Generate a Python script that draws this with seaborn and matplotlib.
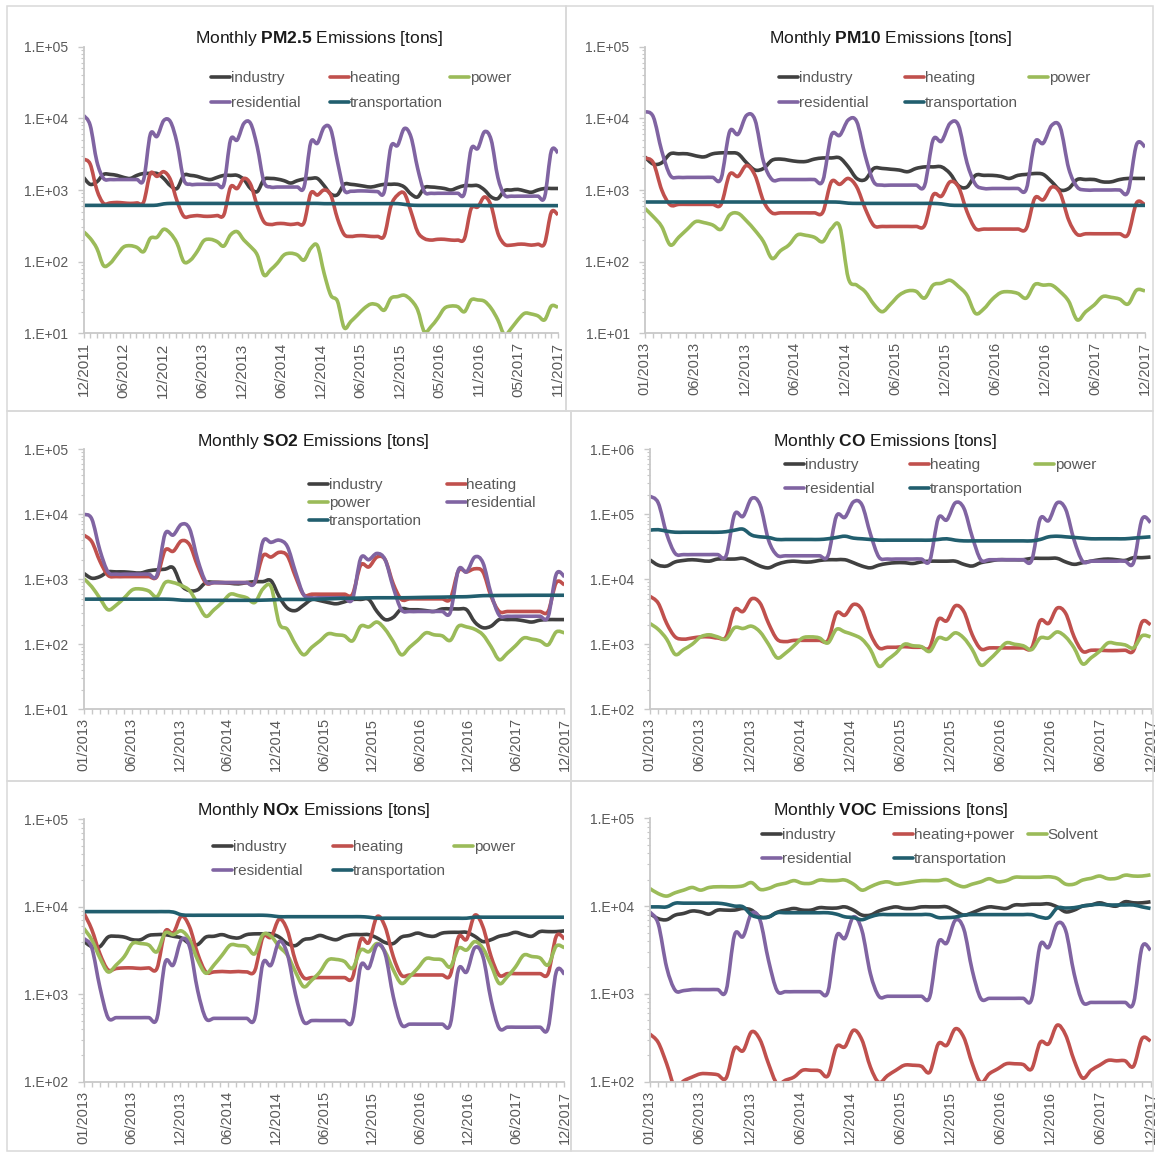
import numpy as np
import pandas as pd
import matplotlib
matplotlib.use("Agg")
import matplotlib.pyplot as plt
import seaborn as sns
from matplotlib.patches import Rectangle, PathPatch
from matplotlib.path import Path
from matplotlib.lines import Line2D
from matplotlib.ticker import LogLocator, NullFormatter, FuncFormatter

sns.set_theme(style="white")
plt.rcParams["font.family"] = ["Liberation Sans", "DejaVu Sans"]
plt.rcParams["mathtext.fontset"] = "custom"
plt.rcParams["mathtext.rm"] = "Liberation Sans"
plt.rcParams["mathtext.it"] = "Liberation Sans:italic"
plt.rcParams["mathtext.bf"] = "Liberation Sans:bold"

# ---------------------------------------------------------------- tick labels
labels_pm25 = ["12/2011", "06/2012", "12/2012", "06/2013", "12/2013", "06/2014", "12/2014",
               "06/2015", "12/2015", "05/2016", "11/2016", "05/2017", "11/2017"]
labels_2013 = ["01/2013", "06/2013", "12/2013", "06/2014", "12/2014", "06/2015",
               "12/2015", "06/2016", "12/2016", "06/2017", "12/2017"]

# ---------------------------------------------------------------- PM2.5 (monthly, 12/2011 - 11/2017)
pm25_industry = [1.5e3, 1.2e3, 1.3e3, 1.65e3, 1.65e3, 1.6e3, 1.5e3, 1.45e3, 1.6e3, 1.7e3, 1.7e3, 1.7e3,
                 1.45e3, 1.15e3, 1.05e3, 1.6e3, 1.6e3, 1.55e3, 1.45e3, 1.4e3, 1.5e3, 1.6e3, 1.6e3, 1.6e3,
                 1.4e3, 1.05e3, 9.5e2, 1.4e3, 1.45e3, 1.42e3, 1.35e3, 1.25e3, 1.35e3, 1.42e3, 1.45e3, 1.45e3,
                 1.15e3, 8.8e2, 8.6e2, 1.2e3, 1.2e3, 1.17e3, 1.13e3, 1.1e3, 1.15e3, 1.2e3, 1.2e3, 1.2e3,
                 1.1e3, 8.8e2, 8.0e2, 1.08e3, 1.1e3, 1.08e3, 1.05e3, 1.0e3, 1.08e3, 1.15e3, 1.15e3, 1.15e3,
                 1.0e3, 8.0e2, 7.6e2, 9.8e2, 1.0e3, 1.02e3, 9.7e2, 9.3e2, 1.0e3, 1.05e3, 1.05e3, 1.05e3]
pm25_heating = [2.7e3, 2.3e3, 1.0e3, 6.5e2, 6.6e2, 6.7e2, 6.6e2, 6.5e2, 6.6e2, 6.8e2, 1.7e3, 1.55e3,
                1.8e3, 1.4e3, 7.0e2, 4.3e2, 4.3e2, 4.4e2, 4.3e2, 4.3e2, 4.4e2, 4.5e2, 1.1e3, 1.05e3,
                1.45e3, 1.2e3, 6.0e2, 3.6e2, 3.3e2, 3.4e2, 3.4e2, 3.3e2, 3.4e2, 3.5e2, 9.0e2, 8.5e2,
                1.0e3, 8.5e2, 4.0e2, 2.4e2, 2.25e2, 2.3e2, 2.3e2, 2.25e2, 2.25e2, 2.3e2, 6.0e2, 8.5e2,
                9.0e2, 5.0e2, 2.6e2, 2.1e2, 2.0e2, 2.05e2, 2.05e2, 2.0e2, 2.0e2, 2.1e2, 5.5e2, 5.8e2,
                8.0e2, 6.0e2, 2.5e2, 1.75e2, 1.7e2, 1.75e2, 1.75e2, 1.7e2, 1.75e2, 1.8e2, 4.9e2, 4.5e2]
pm25_power = [262, 212, 153, 88, 95, 124, 160, 167, 158, 138, 212, 219,
              283, 248, 180, 100, 105, 138, 196, 205, 190, 165, 236, 262,
              200, 162, 124, 65, 77, 95, 124, 131, 124, 105, 153, 167,
              69, 34, 28, 12, 14.6, 18, 22.3, 25.6, 24.8, 21, 30.8, 32.5,
              34, 29.2, 21.2, 10.5, 12.4, 16.2, 22.3, 24, 23.5, 20, 29.2, 29.2,
              28, 22.3, 15.4, 9.5, 11.7, 15.4, 19, 18.6, 17.5, 15.4, 24, 23]
pm25_residential = [1.1e4, 8.0e3, 2.5e3, 1.45e3, 1.4e3, 1.4e3, 1.4e3, 1.4e3, 1.4e3, 1.4e3, 6.0e3, 5.6e3,
                    9.3e3, 9.0e3, 4.5e3, 1.4e3, 1.2e3, 1.2e3, 1.2e3, 1.2e3, 1.2e3, 1.2e3, 5.0e3, 5.0e3,
                    8.5e3, 8.5e3, 4.0e3, 1.3e3, 1.1e3, 1.1e3, 1.1e3, 1.1e3, 1.1e3, 1.1e3, 4.6e3, 4.5e3,
                    7.5e3, 7.0e3, 2.5e3, 1.0e3, 9.6e2, 9.7e2, 9.7e2, 9.6e2, 9.5e2, 9.4e2, 4.0e3, 4.2e3,
                    7.2e3, 5.5e3, 2.0e3, 9.5e2, 9.0e2, 9.0e2, 9.0e2, 9.0e2, 9.0e2, 9.0e2, 3.7e3, 3.8e3,
                    6.5e3, 5.0e3, 1.5e3, 8.5e2, 8.2e2, 8.2e2, 8.2e2, 8.2e2, 8.2e2, 8.0e2, 3.5e3, 3.3e3]
pm25_transport = [610, 610, 610, 610, 610, 610, 610, 610, 610, 610, 610, 615,
                  640, 650, 650, 650, 650, 650, 650, 650, 650, 650, 650, 650,
                  650, 650, 650, 650, 650, 650, 650, 650, 650, 650, 650, 650,
                  645, 645, 645, 645, 645, 645, 645, 645, 645, 645, 645, 645,
                  630, 615, 610, 610, 610, 610, 610, 610, 610, 610, 610, 610,
                  605, 605, 605, 605, 605, 605, 605, 605, 605, 605, 605, 605]

# ---------------------------------------------------------------- PM10 (monthly, 2013 - 2017)
pm10_industry = [2.9e3, 2.3e3, 2.4e3, 3.2e3, 3.2e3, 3.2e3, 3.0e3, 2.9e3, 3.2e3, 3.3e3, 3.3e3, 3.2e3,
                 2.4e3, 1.9e3, 2.0e3, 2.6e3, 2.7e3, 2.6e3, 2.5e3, 2.5e3, 2.7e3, 2.8e3, 2.8e3, 2.8e3,
                 2.1e3, 1.45e3, 1.4e3, 2.0e3, 2.0e3, 1.95e3, 1.9e3, 1.8e3, 2.0e3, 2.1e3, 2.1e3, 2.1e3,
                 1.7e3, 1.15e3, 1.1e3, 1.6e3, 1.6e3, 1.6e3, 1.55e3, 1.45e3, 1.6e3, 1.65e3, 1.7e3, 1.65e3,
                 1.3e3, 1.0e3, 1.05e3, 1.4e3, 1.4e3, 1.4e3, 1.3e3, 1.3e3, 1.4e3, 1.45e3, 1.45e3, 1.45e3]
pm10_heating = [2.8e3, 2.4e3, 1.0e3, 6.2e2, 6.3e2, 6.3e2, 6.3e2, 6.3e2, 6.3e2, 6.3e2, 1.65e3, 1.55e3,
                2.2e3, 1.6e3, 7.0e2, 4.8e2, 4.8e2, 4.8e2, 4.8e2, 4.8e2, 4.8e2, 4.9e2, 1.3e3, 1.2e3,
                1.45e3, 1.1e3, 5.5e2, 3.2e2, 3.1e2, 3.1e2, 3.1e2, 3.1e2, 3.1e2, 3.2e2, 8.5e2, 8.2e2,
                1.3e3, 1.1e3, 5.0e2, 2.9e2, 2.85e2, 2.85e2, 2.85e2, 2.85e2, 2.85e2, 2.9e2, 7.7e2, 7.3e2,
                1.1e3, 9.0e2, 3.8e2, 2.4e2, 2.45e2, 2.45e2, 2.45e2, 2.45e2, 2.45e2, 2.4e2, 6.6e2, 6.2e2]
pm10_power = [555, 425, 308, 171, 219, 283, 362, 350, 325, 283, 448, 472,
              370, 273, 190, 111, 142, 171, 236, 233, 219, 190, 288, 308,
              59, 47, 38, 25.6, 20, 25.6, 34, 39, 38.5, 31, 47, 50,
              55, 45, 34, 19, 22, 30, 37, 38, 36, 31, 48, 47,
              47, 38, 28, 15.4, 20, 24.8, 32.5, 31.8, 30, 25.6, 40, 39]
pm10_residential = [1.24e4, 1.05e4, 3.5e3, 1.6e3, 1.5e3, 1.5e3, 1.5e3, 1.5e3, 1.5e3, 1.45e3, 6.5e3, 6.0e3,
                    1.1e4, 9.5e3, 2.5e3, 1.4e3, 1.4e3, 1.4e3, 1.4e3, 1.4e3, 1.4e3, 1.35e3, 5.8e3, 5.8e3,
                    9.5e3, 9.0e3, 3.0e3, 1.3e3, 1.17e3, 1.17e3, 1.17e3, 1.17e3, 1.17e3, 1.15e3, 5.0e3, 4.8e3,
                    8.5e3, 8.0e3, 2.4e3, 1.2e3, 1.05e3, 1.05e3, 1.05e3, 1.05e3, 1.05e3, 1.03e3, 4.6e3, 4.5e3,
                    8.0e3, 7.5e3, 2.0e3, 1.1e3, 1.0e3, 1.0e3, 1.0e3, 1.0e3, 1.0e3, 9.5e2, 4.3e3, 4.0e3]
pm10_transport = [680, 680, 680, 680, 680, 680, 680, 680, 680, 680, 680, 680,
                  680, 680, 680, 680, 680, 680, 680, 680, 680, 680, 680, 675,
                  655, 650, 650, 650, 650, 650, 650, 650, 650, 650, 650, 640,
                  615, 610, 610, 610, 610, 610, 610, 610, 610, 610, 610, 610,
                  610, 610, 610, 610, 610, 610, 610, 610, 610, 610, 610, 610]

# ---------------------------------------------------------------- SO2
so2_industry = [1.24e3, 1.04e3, 1.1e3, 1.3e3, 1.3e3, 1.3e3, 1.27e3, 1.25e3, 1.35e3, 1.4e3, 1.43e3, 1.5e3,
                8.1e2, 6.7e2, 6.9e2, 8.9e2, 9.0e2, 8.9e2, 8.7e2, 8.5e2, 8.9e2, 9.2e2, 9.2e2, 9.5e2,
                5.4e2, 3.6e2, 3.3e2, 4.0e2, 4.9e2, 4.7e2, 4.4e2, 4.2e2, 4.5e2, 4.9e2, 4.9e2, 4.9e2,
                3.2e2, 2.4e2, 2.6e2, 3.5e2, 3.4e2, 3.4e2, 3.3e2, 3.2e2, 3.5e2, 3.5e2, 3.5e2, 3.4e2,
                2.2e2, 1.8e2, 1.9e2, 2.4e2, 2.4e2, 2.4e2, 2.3e2, 2.2e2, 2.35e2, 2.4e2, 2.4e2, 2.4e2]
so2_heating = [4.8e3, 3.8e3, 1.9e3, 1.15e3, 1.1e3, 1.1e3, 1.1e3, 1.1e3, 1.1e3, 1.1e3, 2.8e3, 2.7e3,
               3.9e3, 3.4e3, 1.6e3, 8.8e2, 8.9e2, 8.9e2, 8.9e2, 8.9e2, 8.9e2, 8.9e2, 2.3e3, 2.2e3,
               2.6e3, 2.3e3, 1.1e3, 5.8e2, 5.9e2, 5.9e2, 5.9e2, 5.9e2, 5.9e2, 5.9e2, 1.65e3, 1.55e3,
               2.2e3, 2.0e3, 8.5e2, 4.9e2, 5.0e2, 5.0e2, 5.0e2, 5.0e2, 5.0e2, 5.0e2, 1.35e3, 1.3e3,
               1.45e3, 1.3e3, 5.5e2, 3.2e2, 3.2e2, 3.2e2, 3.2e2, 3.2e2, 3.2e2, 3.2e2, 8.9e2, 8.2e2]
so2_power = [1.03e3, 7.7e2, 5.1e2, 3.4e2, 4.0e2, 5.2e2, 6.9e2, 7.1e2, 6.6e2, 5.4e2, 8.9e2, 8.9e2,
             8.0e2, 6.7e2, 4.2e2, 2.7e2, 3.4e2, 4.4e2, 5.9e2, 5.6e2, 5.2e2, 4.4e2, 7.1e2, 7.7e2,
             2.1e2, 1.7e2, 1.0e2, 6.9e1, 9.0e1, 1.13e2, 1.45e2, 1.4e2, 1.35e2, 1.13e2, 1.9e2, 1.85e2,
             2.2e2, 1.7e2, 1.1e2, 6.9e1, 9.0e1, 1.15e2, 1.5e2, 1.4e2, 1.35e2, 1.15e2, 1.9e2, 1.85e2,
             1.7e2, 1.4e2, 9.2e1, 5.8e1, 7.3e1, 9.5e1, 1.25e2, 1.2e2, 1.13e2, 9.8e1, 1.55e2, 1.5e2]
so2_residential = [1.0e4, 8.5e3, 2.8e3, 1.3e3, 1.2e3, 1.2e3, 1.2e3, 1.2e3, 1.2e3, 1.15e3, 5.0e3, 4.8e3,
                   7.0e3, 6.0e3, 2.0e3, 9.2e2, 8.9e2, 8.9e2, 8.9e2, 8.9e2, 8.9e2, 9.0e2, 3.8e3, 3.7e3,
                   4.0e3, 3.2e3, 1.3e3, 5.8e2, 5.2e2, 5.2e2, 5.2e2, 5.2e2, 5.2e2, 5.0e2, 2.1e3, 2.0e3,
                   2.5e3, 2.0e3, 7.5e2, 3.4e2, 3.2e2, 3.2e2, 3.2e2, 3.2e2, 3.2e2, 3.1e2, 1.4e3, 1.3e3,
                   2.2e3, 1.8e3, 6.0e2, 2.8e2, 2.7e2, 2.7e2, 2.7e2, 2.7e2, 2.7e2, 2.65e2, 1.2e3, 1.1e3]
so2_transport = [495, 495, 495, 495, 495, 495, 495, 495, 495, 495, 495, 490,
                 478, 475, 475, 475, 475, 475, 475, 475, 475, 475, 478, 482,
                 488, 490, 490, 490, 490, 495, 500, 505, 510, 512, 515, 518,
                 520, 520, 520, 520, 522, 525, 528, 530, 532, 535, 538, 540,
                 550, 560, 562, 564, 565, 566, 567, 568, 568, 568, 568, 568]

# ---------------------------------------------------------------- CO
co_industry = [2.0e4, 1.65e4, 1.6e4, 1.85e4, 1.95e4, 2.0e4, 1.95e4, 1.9e4, 2.05e4, 2.05e4, 2.05e4, 2.1e4,
               1.85e4, 1.6e4, 1.5e4, 1.7e4, 1.85e4, 1.9e4, 1.85e4, 1.85e4, 1.95e4, 2.0e4, 2.0e4, 2.0e4,
               1.8e4, 1.6e4, 1.5e4, 1.65e4, 1.75e4, 1.8e4, 1.8e4, 1.75e4, 1.85e4, 1.9e4, 1.9e4, 1.9e4,
               1.9e4, 1.7e4, 1.6e4, 1.8e4, 1.9e4, 2.0e4, 2.0e4, 2.0e4, 2.0e4, 2.1e4, 2.1e4, 2.1e4,
               2.1e4, 1.85e4, 1.7e4, 1.8e4, 1.9e4, 2.0e4, 2.05e4, 2.0e4, 1.95e4, 2.15e4, 2.15e4, 2.2e4]
co_heating = [5.5e3, 4.3e3, 2.1e3, 1.3e3, 1.2e3, 1.25e3, 1.3e3, 1.3e3, 1.25e3, 1.3e3, 3.4e3, 3.2e3,
              5.0e3, 4.3e3, 2.1e3, 1.2e3, 1.1e3, 1.15e3, 1.15e3, 1.15e3, 1.15e3, 1.15e3, 3.0e3, 2.8e3,
              4.1e3, 3.4e3, 1.45e3, 8.8e2, 9.0e2, 9.0e2, 9.2e2, 9.0e2, 9.0e2, 9.0e2, 2.4e3, 2.3e3,
              3.9e3, 3.2e3, 1.4e3, 8.5e2, 8.8e2, 8.8e2, 8.8e2, 8.8e2, 8.8e2, 8.8e2, 2.3e3, 2.1e3,
              3.6e3, 3.0e3, 1.3e3, 7.8e2, 8.1e2, 8.1e2, 8.0e2, 8.0e2, 8.1e2, 8.0e2, 2.2e3, 2.0e3]
co_power = [2.1e3, 1.7e3, 1.2e3, 7.0e2, 8.3e2, 1.0e3, 1.3e3, 1.4e3, 1.3e3, 1.2e3, 1.8e3, 1.75e3,
            1.9e3, 1.55e3, 1.0e3, 6.2e2, 7.3e2, 9.5e2, 1.25e3, 1.3e3, 1.25e3, 1.05e3, 1.7e3, 1.55e3,
            1.4e3, 1.2e3, 8.3e2, 4.6e2, 5.8e2, 7.3e2, 1.0e3, 9.5e2, 9.2e2, 7.8e2, 1.25e3, 1.2e3,
            1.5e3, 1.25e3, 8.3e2, 4.8e2, 5.8e2, 7.8e2, 1.05e3, 1.0e3, 9.5e2, 8.3e2, 1.25e3, 1.25e3,
            1.55e3, 1.3e3, 8.8e2, 5.0e2, 6.2e2, 7.8e2, 1.05e3, 1.02e3, 9.8e2, 8.8e2, 1.35e3, 1.3e3]
co_residential = [1.9e5, 1.5e5, 5.0e4, 2.5e4, 2.4e4, 2.4e4, 2.4e4, 2.4e4, 2.4e4, 2.3e4, 1.0e5, 9.3e4,
                  1.75e5, 1.4e5, 4.0e4, 2.35e4, 2.3e4, 2.3e4, 2.3e4, 2.3e4, 2.3e4, 2.3e4, 9.4e4, 9.0e4,
                  1.55e5, 1.4e5, 5.0e4, 2.2e4, 2.05e4, 2.05e4, 2.05e4, 2.05e4, 2.05e4, 1.95e4, 8.7e4, 8.2e4,
                  1.5e5, 1.25e5, 4.5e4, 2.0e4, 2.0e4, 2.0e4, 2.0e4, 2.0e4, 2.0e4, 1.95e4, 8.5e4, 8.0e4,
                  1.5e5, 1.2e5, 4.0e4, 1.9e4, 1.9e4, 1.9e4, 1.9e4, 1.9e4, 1.9e4, 1.8e4, 8.4e4, 7.5e4]
co_transport = [5.7e4, 5.8e4, 5.5e4, 5.3e4, 5.3e4, 5.3e4, 5.3e4, 5.3e4, 5.3e4, 5.4e4, 5.7e4, 5.9e4,
                4.8e4, 4.5e4, 4.4e4, 4.1e4, 4.1e4, 4.1e4, 4.1e4, 4.1e4, 4.1e4, 4.2e4, 4.4e4, 4.6e4,
                4.3e4, 4.2e4, 4.1e4, 4.0e4, 4.0e4, 4.0e4, 4.0e4, 4.0e4, 4.0e4, 4.0e4, 4.1e4, 4.2e4,
                4.0e4, 3.9e4, 3.9e4, 3.9e4, 3.9e4, 3.9e4, 3.9e4, 3.9e4, 3.9e4, 3.9e4, 4.1e4, 4.5e4,
                4.6e4, 4.5e4, 4.4e4, 4.3e4, 4.2e4, 4.2e4, 4.2e4, 4.2e4, 4.2e4, 4.3e4, 4.4e4, 4.5e4]

# ---------------------------------------------------------------- NOx
nox_industry = [4.05e3, 3.5e3, 3.5e3, 4.5e3, 4.6e3, 4.5e3, 4.2e3, 4.2e3, 4.7e3, 4.8e3, 4.8e3, 4.6e3,
                4.4e3, 3.8e3, 3.7e3, 4.5e3, 4.6e3, 4.8e3, 4.5e3, 4.4e3, 4.8e3, 4.9e3, 4.9e3, 4.9e3,
                4.5e3, 3.8e3, 3.6e3, 4.2e3, 4.35e3, 4.7e3, 4.4e3, 4.2e3, 4.6e3, 4.8e3, 4.8e3, 4.8e3,
                4.4e3, 3.9e3, 3.8e3, 4.5e3, 4.7e3, 5.0e3, 4.7e3, 4.6e3, 5.0e3, 5.1e3, 5.1e3, 5.1e3,
                4.6e3, 4.0e3, 4.2e3, 4.6e3, 4.8e3, 5.1e3, 4.8e3, 4.6e3, 5.2e3, 5.2e3, 5.2e3, 5.3e3]
nox_heating = [8.6e3, 5.5e3, 2.9e3, 1.9e3, 1.97e3, 2.0e3, 2.0e3, 1.97e3, 2.0e3, 1.97e3, 5.2e3, 5.0e3,
               7.8e3, 5.9e3, 2.9e3, 1.8e3, 1.8e3, 1.82e3, 1.8e3, 1.82e3, 1.8e3, 1.85e3, 4.5e3, 4.5e3,
               7.2e3, 5.4e3, 2.4e3, 1.55e3, 1.55e3, 1.55e3, 1.55e3, 1.55e3, 1.55e3, 1.55e3, 4.2e3, 3.9e3,
               7.7e3, 5.9e3, 2.7e3, 1.65e3, 1.66e3, 1.66e3, 1.66e3, 1.66e3, 1.66e3, 1.66e3, 4.5e3, 4.25e3,
               8.0e3, 5.9e3, 2.7e3, 1.65e3, 1.72e3, 1.72e3, 1.72e3, 1.72e3, 1.72e3, 1.72e3, 4.6e3, 4.3e3]
nox_power = [5.7e3, 4.2e3, 2.6e3, 1.8e3, 2.16e3, 2.7e3, 3.8e3, 3.8e3, 3.65e3, 3.06e3, 5.0e3, 4.8e3,
             5.3e3, 4.2e3, 2.46e3, 1.74e3, 2.16e3, 2.8e3, 3.65e3, 3.6e3, 3.5e3, 2.9e3, 4.8e3, 4.6e3,
             3.5e3, 2.8e3, 1.8e3, 1.22e3, 1.45e3, 1.8e3, 2.46e3, 2.5e3, 2.37e3, 1.98e3, 3.2e3, 3.06e3,
             3.8e3, 3.06e3, 1.9e3, 1.33e3, 1.59e3, 1.98e3, 2.55e3, 2.52e3, 2.46e3, 2.05e3, 3.35e3, 3.2e3,
             4.0e3, 3.35e3, 2.16e3, 1.33e3, 1.59e3, 2.05e3, 2.8e3, 2.7e3, 2.6e3, 2.16e3, 3.55e3, 3.4e3]
nox_residential = [4.35e3, 3.4e3, 1.2e3, 5.4e2, 5.4e2, 5.4e2, 5.4e2, 5.4e2, 5.4e2, 5.3e2, 2.3e3, 2.16e3,
                   4.2e3, 3.5e3, 1.1e3, 5.3e2, 5.3e2, 5.3e2, 5.3e2, 5.3e2, 5.3e2, 5.3e2, 2.25e3, 2.15e3,
                   4.0e3, 2.9e3, 1.0e3, 4.85e2, 5.0e2, 5.0e2, 5.0e2, 5.0e2, 5.0e2, 5.0e2, 2.1e3, 2.0e3,
                   3.65e3, 2.9e3, 9.4e2, 4.5e2, 4.55e2, 4.55e2, 4.55e2, 4.55e2, 4.55e2, 4.55e2, 1.92e3, 1.8e3,
                   3.4e3, 2.7e3, 8.6e2, 4.1e2, 4.2e2, 4.2e2, 4.2e2, 4.2e2, 4.2e2, 4.1e2, 1.8e3, 1.7e3]
nox_transport = [8.8e3, 8.8e3, 8.8e3, 8.8e3, 8.8e3, 8.8e3, 8.8e3, 8.8e3, 8.8e3, 8.8e3, 8.8e3, 8.7e3,
                 8.1e3, 8.0e3, 8.0e3, 8.0e3, 8.0e3, 8.0e3, 8.0e3, 8.0e3, 8.0e3, 8.0e3, 8.0e3, 7.9e3,
                 7.7e3, 7.7e3, 7.7e3, 7.7e3, 7.7e3, 7.7e3, 7.7e3, 7.7e3, 7.7e3, 7.7e3, 7.7e3, 7.6e3,
                 7.4e3, 7.4e3, 7.4e3, 7.4e3, 7.4e3, 7.4e3, 7.4e3, 7.4e3, 7.4e3, 7.4e3, 7.4e3, 7.4e3,
                 7.6e3, 7.6e3, 7.6e3, 7.6e3, 7.6e3, 7.6e3, 7.6e3, 7.6e3, 7.6e3, 7.6e3, 7.6e3, 7.6e3]

# ---------------------------------------------------------------- VOC
voc_industry = [8.25e3, 7.2e3, 7.0e3, 7.9e3, 8.25e3, 8.8e3, 8.6e3, 8.1e3, 9.0e3, 9.0e3, 9.0e3, 9.4e3,
                9.0e3, 7.55e3, 7.55e3, 8.5e3, 9.0e3, 9.4e3, 9.0e3, 9.0e3, 9.6e3, 9.5e3, 9.5e3, 9.8e3,
                9.0e3, 7.9e3, 7.9e3, 8.8e3, 9.4e3, 9.8e3, 9.4e3, 9.4e3, 9.8e3, 9.8e3, 9.8e3, 9.8e3,
                8.8e3, 7.9e3, 8.4e3, 9.2e3, 9.8e3, 9.6e3, 9.4e3, 1.03e4, 1.03e4, 1.05e4, 1.05e4, 1.06e4,
                9.8e3, 8.6e3, 9.0e3, 1.0e4, 1.03e4, 1.09e4, 1.03e4, 1.0e4, 1.12e4, 1.09e4, 1.09e4, 1.12e4]
voc_heatpower = [3.5e2, 2.8e2, 1.6e2, 8.5e1, 1.02e2, 1.13e2, 1.23e2, 1.23e2, 1.2e2, 1.1e2, 2.4e2, 2.25e2,
                 3.7e2, 3.0e2, 1.6e2, 9.5e1, 1.04e2, 1.13e2, 1.35e2, 1.35e2, 1.33e2, 1.17e2, 2.5e2, 2.5e2,
                 3.85e2, 3.0e2, 1.47e2, 9.8e1, 1.17e2, 1.35e2, 1.54e2, 1.54e2, 1.5e2, 1.29e2, 2.7e2, 2.6e2,
                 4.0e2, 3.2e2, 1.6e2, 9.8e1, 1.23e2, 1.4e2, 1.6e2, 1.6e2, 1.57e2, 1.4e2, 2.8e2, 2.7e2,
                 4.4e2, 3.4e2, 1.75e2, 1.1e2, 1.35e2, 1.54e2, 1.75e2, 1.73e2, 1.73e2, 1.5e2, 3.1e2, 2.9e2]
voc_solvent = [1.59e4, 1.39e4, 1.3e4, 1.42e4, 1.52e4, 1.63e4, 1.52e4, 1.63e4, 1.66e4, 1.66e4, 1.66e4, 1.7e4,
               1.85e4, 1.55e4, 1.59e4, 1.74e4, 1.82e4, 1.95e4, 1.82e4, 1.82e4, 1.98e4, 1.95e4, 1.95e4, 1.98e4,
               1.78e4, 1.52e4, 1.66e4, 1.82e4, 1.89e4, 1.78e4, 1.82e4, 1.89e4, 1.95e4, 1.95e4, 1.95e4, 2.0e4,
               1.78e4, 1.66e4, 1.78e4, 1.89e4, 2.05e4, 1.89e4, 1.95e4, 2.13e4, 2.13e4, 2.13e4, 2.13e4, 2.16e4,
               2.07e4, 1.78e4, 1.78e4, 1.98e4, 2.07e4, 2.2e4, 2.05e4, 2.07e4, 2.25e4, 2.2e4, 2.2e4, 2.27e4]
voc_residential = [8.6e3, 6.3e3, 2.0e3, 1.1e3, 1.09e3, 1.12e3, 1.12e3, 1.12e3, 1.12e3, 1.09e3, 4.7e3, 4.5e3,
                   8.25e3, 6.9e3, 2.4e3, 1.09e3, 1.06e3, 1.06e3, 1.06e3, 1.06e3, 1.06e3, 1.06e3, 4.5e3, 4.3e3,
                   7.55e3, 5.3e3, 1.7e3, 9.4e2, 9.4e2, 9.4e2, 9.4e2, 9.4e2, 9.4e2, 9.3e2, 3.8e3, 3.8e3,
                   6.9e3, 5.5e3, 1.85e3, 8.9e2, 8.9e2, 8.9e2, 8.9e2, 8.9e2, 8.9e2, 8.7e2, 3.6e3, 3.4e3,
                   6.3e3, 5.3e3, 1.7e3, 8.1e2, 8.0e2, 8.0e2, 8.0e2, 8.0e2, 8.0e2, 7.9e2, 3.4e3, 3.15e3]
voc_transport = [9.8e3, 9.8e3, 9.8e3, 1.08e4, 1.08e4, 1.08e4, 1.08e4, 1.08e4, 1.08e4, 1.05e4, 1.0e4, 9.8e3,
                 7.9e3, 7.4e3, 7.5e3, 8.4e3, 8.4e3, 8.4e3, 8.4e3, 8.4e3, 8.4e3, 8.4e3, 8.1e3, 7.55e3,
                 7.4e3, 7.0e3, 7.55e3, 8.0e3, 8.0e3, 8.0e3, 8.0e3, 8.0e3, 8.0e3, 8.0e3, 7.4e3, 7.4e3,
                 7.5e3, 7.9e3, 8.0e3, 8.0e3, 8.0e3, 8.0e3, 8.0e3, 8.0e3, 8.0e3, 8.0e3, 7.5e3, 7.4e3,
                 9.5e3, 9.5e3, 9.6e3, 1.0e4, 1.03e4, 1.05e4, 1.03e4, 1.03e4, 1.03e4, 1.03e4, 9.8e3, 9.4e3]

# ---------------------------------------------------------------- styling
COLORS = {"industry": "#404040", "heating": "#c0504d", "power": "#9bbb59",
          "residential": "#8064a2", "transportation": "#215e6e",
          "heating+power": "#c0504d", "Solvent": "#9bbb59"}
AXIS_GRAY = "#c8c8c8"
TEXT_GRAY = "#595959"
BORDER_GRAY = "#d9d9d9"
LINE_W = 2.6

W, H = 1157, 1153
fig = plt.figure(figsize=(W / 100, H / 100), dpi=100)
fig.patch.set_facecolor("white")


def px_rect(left, top, right, bottom):
    return [left / W, 1 - bottom / H, (right - left) / W, (bottom - top) / H]


def fxy(x, y):
    return (x / W, 1 - y / H)


def smoothed_path(xy):
    """Cubic Bezier through every data point (Catmull-Rom tangents in log-y space)."""
    pts = np.column_stack([xy[:, 0], np.log10(xy[:, 1])])
    n = len(pts)
    verts = [pts[0]]
    codes = [Path.MOVETO]
    for i in range(n - 1):
        p0 = pts[i - 1] if i > 0 else pts[i]
        p1, p2 = pts[i], pts[i + 1]
        p3 = pts[i + 2] if i + 2 < n else pts[i + 1]
        verts += [p1 + (p2 - p0) / 6.0, p2 - (p3 - p1) / 6.0, p2]
        codes += [Path.CURVE4] * 3
    verts = np.array(verts)
    verts[:, 1] = 10 ** verts[:, 1]
    return Path(verts, codes)


panels = [
    dict(title=r"Monthly $\mathbf{PM2.5}$ Emissions [tons]", title_xy=(319, 38),
         box=(7, 6, 566, 411), axes=(83.5, 46.7, 558, 333.3), ylim=(1e1, 1e5),
         labels=labels_pm25, xfs=11,
         series=[("industry", pm25_industry), ("heating", pm25_heating), ("power", pm25_power),
                 ("residential", pm25_residential), ("transportation", pm25_transport)],
         legend=[("industry", 211, 78), ("heating", 330, 78), ("power", 450, 78),
                 ("residential", 211, 103), ("transportation", 330, 103)]),
    dict(title=r"Monthly $\mathbf{PM10}$ Emissions [tons]", title_xy=(891, 38),
         box=(566, 6, 1153, 411), axes=(644.8, 46.7, 1145, 333.3), ylim=(1e1, 1e5),
         labels=labels_2013, xfs=10.5,
         series=[("industry", pm10_industry), ("heating", pm10_heating), ("power", pm10_power),
                 ("residential", pm10_residential), ("transportation", pm10_transport)],
         legend=[("industry", 779, 78), ("heating", 905, 78), ("power", 1029, 78),
                 ("residential", 779, 103), ("transportation", 905, 103)]),
    dict(title=r"Monthly $\mathbf{SO2}$ Emissions [tons]", title_xy=(313, 441.7),
         box=(7, 411, 571, 781), axes=(83.6, 449.3, 564.4, 709.3), ylim=(1e1, 1e5),
         labels=labels_2013, xfs=10.5,
         series=[("industry", so2_industry), ("heating", so2_heating), ("power", so2_power),
                 ("residential", so2_residential), ("transportation", so2_transport)],
         legend=[("industry", 309, 485), ("heating", 446.5, 485), ("power", 309, 503),
                 ("residential", 446.5, 503), ("transportation", 309, 521)]),
    dict(title=r"Monthly $\mathbf{CO}$ Emissions [tons]", title_xy=(885, 441.7),
         box=(571, 411, 1153, 781), axes=(649.7, 449.3, 1150.5, 709.3), ylim=(1e2, 1e6),
         labels=labels_2013, xfs=10.5,
         series=[("industry", co_industry), ("heating", co_heating), ("power", co_power),
                 ("residential", co_residential), ("transportation", co_transport)],
         legend=[("industry", 785, 465), ("heating", 910, 465), ("power", 1035, 465),
                 ("residential", 785, 489), ("transportation", 910, 489)]),
    dict(title=r"Monthly $\mathbf{NOx}$ Emissions [tons]", title_xy=(313.5, 810.7),
         box=(7, 781, 571, 1151), axes=(83.6, 819.3, 564.4, 1081.7), ylim=(1e2, 1e5),
         labels=labels_2013, xfs=10.5,
         series=[("industry", nox_industry), ("heating", nox_heating), ("power", nox_power),
                 ("residential", nox_residential), ("transportation", nox_transport)],
         legend=[("industry", 212.7, 847), ("heating", 332.7, 847), ("power", 453.8, 847),
                 ("residential", 212.7, 871), ("transportation", 332.7, 871)]),
    dict(title=r"Monthly $\mathbf{VOC}$ Emissions [tons]", title_xy=(891, 810.7),
         box=(571, 781, 1153, 1151), axes=(649.7, 818.3, 1150.5, 1081.7), ylim=(1e2, 1e5),
         labels=labels_2013, xfs=10.5,
         series=[("industry", voc_industry), ("heating+power", voc_heatpower), ("Solvent", voc_solvent),
                 ("residential", voc_residential), ("transportation", voc_transport)],
         legend=[("industry", 762, 835), ("heating+power", 894, 835), ("Solvent", 1027.5, 835),
                 ("residential", 762, 859), ("transportation", 894, 859)]),
]

exp_fmt = FuncFormatter(lambda v, pos: "1.E+%02d" % int(round(np.log10(v))))

for spec in panels:
    # chart frame
    l, t, r, b = spec["box"]
    fig.add_artist(Rectangle(fxy(l, b), (r - l) / W, (b - t) / H, transform=fig.transFigure,
                             fill=False, edgecolor=BORDER_GRAY, linewidth=1.1))

    ax = fig.add_axes(px_rect(*spec["axes"]))
    order = [name for name, _ in spec["series"]]
    n = len(spec["series"][0][1])
    df = pd.concat([pd.DataFrame({"month": np.arange(len(vals)), "tons": vals, "sector": name})
                    for name, vals in spec["series"]], ignore_index=True)
    sns.lineplot(data=df, x="month", y="tons", hue="sector", hue_order=order,
                 palette=[COLORS[k] for k in order], linewidth=LINE_W, errorbar=None,
                 legend=False, ax=ax)

    # redraw each seaborn line as a smoothed curve through the same points
    for name, ln in zip(order, list(ax.lines)):
        xy = np.asarray(ln.get_xydata(), dtype=float)
        ax.add_patch(PathPatch(smoothed_path(xy), facecolor="none", edgecolor=ln.get_color(),
                               linewidth=LINE_W, joinstyle="round", capstyle="butt", zorder=2))
        ln.remove()

    ax.set_yscale("log")
    ax.set_ylim(*spec["ylim"])
    ax.set_xlim(0, n - 1)
    ax.set_xlabel("")
    ax.set_ylabel("")
    ax.set_facecolor("none")

    ax.yaxis.set_major_locator(LogLocator(base=10, numticks=12))
    ax.yaxis.set_major_formatter(exp_fmt)
    ax.yaxis.set_minor_locator(LogLocator(base=10, subs=np.arange(2, 10), numticks=12))
    ax.yaxis.set_minor_formatter(NullFormatter())

    ax.set_xticks(np.linspace(0, n - 1, len(spec["labels"])))
    ax.set_xticklabels(spec["labels"], rotation=90, fontsize=spec["xfs"], color=TEXT_GRAY)
    ax.set_xticks(np.linspace(0, n - 1, 6 * (len(spec["labels"]) - 1) + 1), minor=True)

    ax.tick_params(axis="y", which="major", direction="out", length=4, width=1.0,
                   color=AXIS_GRAY, labelsize=10, labelcolor=TEXT_GRAY, pad=7, left=True)
    ax.tick_params(axis="y", which="minor", direction="out", length=2.5, width=0.8,
                   color=AXIS_GRAY, left=True)
    ax.tick_params(axis="x", which="both", direction="out", length=3.5, width=1.0,
                   color=AXIS_GRAY, pad=3, bottom=True)

    for side in ("top", "right"):
        ax.spines[side].set_visible(False)
    for side in ("left", "bottom"):
        ax.spines[side].set_color(AXIS_GRAY)
        ax.spines[side].set_linewidth(1.3)

    # title with the pollutant name in bold
    fig.text(*fxy(*spec["title_xy"]), spec["title"], ha="center", va="center",
             fontsize=12.5, color="#1a1a1a")

    # Excel-style legend entries on a fixed grid
    for name, x, y in spec["legend"]:
        key = Line2D([], [], color=COLORS[name], linewidth=LINE_W)
        fig.legend(handles=[key], labels=[name], loc="center left",
                   bbox_to_anchor=fxy(x, y), frameon=False, borderpad=0, borderaxespad=0,
                   handlelength=1.25, handletextpad=0.05, fontsize=11, labelcolor=TEXT_GRAY)

fig.savefig("out.png", dpi=100, facecolor="white")
